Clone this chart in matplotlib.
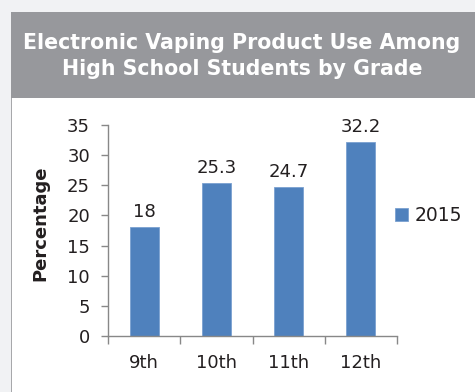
import matplotlib
matplotlib.use("Agg")
import matplotlib.pyplot as plt
from matplotlib.patches import Rectangle

plt.rcParams['font.family'] = ['DejaVu Sans']

grades = ["9th", "10th", "11th", "12th"]
values_2015 = [18, 25.3, 24.7, 32.2]
y_ticks = [0, 5, 10, 15, 20, 25, 30, 35]
series_label = "2015"
title = "Electronic Vaping Product Use Among\nHigh School Students by Grade"

W, H = 475, 392
fig = plt.figure(figsize=(W / 100, H / 100), dpi=100)
fig.patch.set_facecolor("#f1f2f4")

def px(x, y, w, h, **kw):
    # rectangle in pixel coords measured from the top-left corner
    fig.patches.append(Rectangle((x / W, 1 - (y + h) / H), w / W, h / H,
                                 transform=fig.transFigure, figure=fig,
                                 zorder=-5, **kw))

# white card with gray header band
px(11, 12, 470, 390, facecolor="white", edgecolor="none")
px(10.5, 12, 1.5, 390, facecolor="#a7a8ab", edgecolor="none")
px(11, 12, 470, 86, facecolor="#97989c", edgecolor="none")
fig.text(242 / W, 1 - 56 / H, title, ha="center", va="center", color="white",
         fontsize=14.8, fontweight="bold", linespacing=1.35)

ax = fig.add_axes([108 / W, (H - 336) / H, (397 - 108) / W, (336 - 125) / H])
ax.patch.set_alpha(0)
x = range(len(grades))
bars = ax.bar(x, values_2015, width=0.4, color="#4f81bd", edgecolor="#7aa0d0",
              linewidth=0.6, label=series_label, zorder=2)
for xi, v in zip(x, values_2015):
    ax.text(xi, v + 1.0, f"{v:g}", ha="center", va="bottom", fontsize=13,
            color="#231f20")

ax.set_xlim(-0.5, 3.5)
ax.set_ylim(0, 35)
ax.set_yticks(y_ticks)
ax.tick_params(axis="y", direction="out", length=5, width=1, color="#888888",
               labelsize=13, labelcolor="#231f20", pad=8)
ax.set_xticks([-0.5, 0.5, 1.5, 2.5, 3.5], minor=False)
ax.set_xticklabels([])
ax.tick_params(axis="x", direction="out", length=6, width=1, color="#888888")
ax.set_xticks(list(x), minor=True)
ax.set_xticklabels(grades, minor=True)
ax.tick_params(axis="x", which="minor", length=0, labelsize=13,
               labelcolor="#231f20", pad=13)
for s in ["top", "right"]:
    ax.spines[s].set_visible(False)
for s in ["left", "bottom"]:
    ax.spines[s].set_color("#888888")
    ax.spines[s].set_linewidth(1)
ax.set_ylabel("Percentage", fontsize=13, fontweight="bold", color="#231f20")
ax.yaxis.set_label_coords(49 / W, 1 - 223 / H, transform=fig.transFigure)

ax.legend(loc="center left", bbox_to_anchor=(395 / W, 1 - 216 / H),
          bbox_transform=fig.transFigure, frameon=False, borderpad=0,
          borderaxespad=0, fontsize=13.5, handlelength=0.7, handleheight=0.7,
          handletextpad=0.35, labelcolor="#231f20")

fig.savefig("out.png", dpi=100)
